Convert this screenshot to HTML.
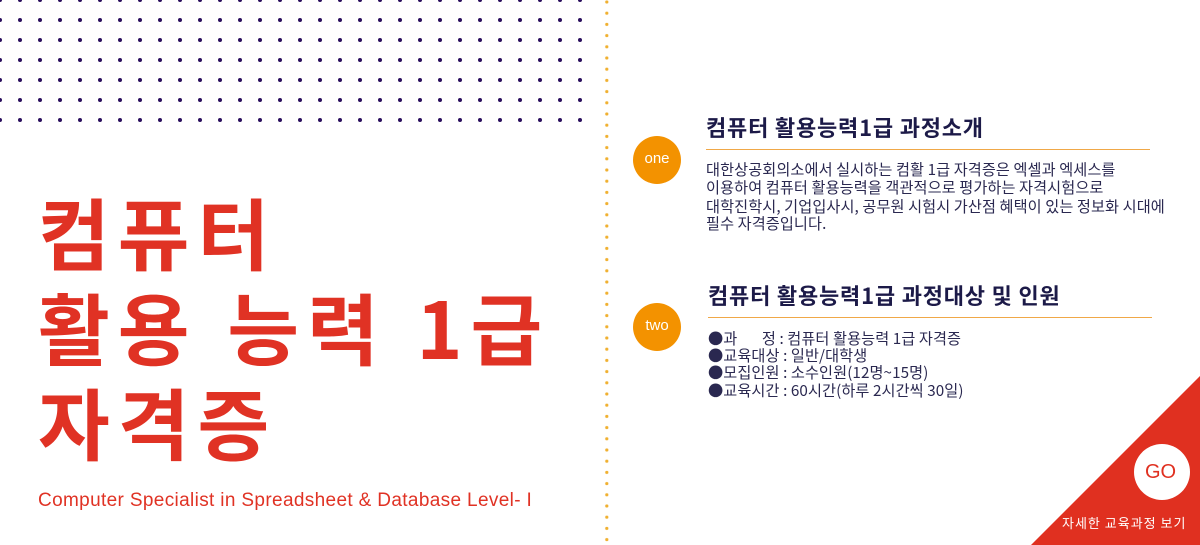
<!DOCTYPE html>
<html><head><meta charset="utf-8"><style>
*{margin:0;padding:0;box-sizing:border-box}
body{width:1200px;height:545px;overflow:hidden;background:#fff;position:relative;font-family:"Liberation Sans","Noto Sans CJK KR",sans-serif}
.t{position:absolute;left:38px;font-family:"Noto Sans CJK KR",sans-serif;font-weight:700;color:#e03224;font-size:78px;line-height:1;white-space:nowrap;letter-spacing:8px;word-spacing:4px}
.a{position:absolute;white-space:nowrap}
.h{font-family:"Noto Sans CJK KR",sans-serif;font-weight:700;font-size:22px;color:#1c1a48;line-height:1;letter-spacing:0.8px}
.b{font-family:"Noto Sans CJK KR",sans-serif;font-size:15.2px;color:#2a2850;line-height:1;letter-spacing:0.1px}
.ln{position:absolute;height:1px;background:#f0a848;left:706px;width:444px}
.c{position:absolute;width:48px;height:48px;border-radius:50%;background:#f39200;color:#fff;font-size:15px;text-align:center;line-height:46px;font-family:"Liberation Sans",sans-serif}
</style></head><body>
<svg width="1200" height="545" style="position:absolute;left:0;top:0">
<defs>
<pattern id="d" x="0" y="0" width="20" height="20" patternUnits="userSpaceOnUse"><circle cx="0" cy="0" r="2" fill="#2a0f5e"/><circle cx="20" cy="0" r="2" fill="#2a0f5e"/><circle cx="0" cy="20" r="2" fill="#2a0f5e"/><circle cx="20" cy="20" r="2" fill="#2a0f5e"/></pattern>
<pattern id="o" x="0" y="2" width="11.2" height="11.2" patternUnits="userSpaceOnUse"><circle cx="2" cy="0" r="1.6" fill="#f0b030"/><circle cx="2" cy="11.2" r="1.6" fill="#f0b030"/></pattern>
</defs>
<rect x="-2" y="-2" width="585" height="125" fill="url(#d)"/>
<rect x="604" y="0" width="5" height="545" fill="url(#o)"/>
<polygon points="1200,376 1200,545 1031,545" fill="#e03020"/>
<circle cx="1162" cy="472" r="28" fill="#fff"/>
</svg>
<div class="t" style="top:192px">컴퓨터</div>
<div class="t" style="top:287px">활용 능력 1급</div>
<div class="t" style="top:382px">자격증</div>
<div class="a" style="left:38px;top:490px;font-size:19px;color:#e03224;font-family:'Liberation Sans',sans-serif;letter-spacing:0.35px">Computer Specialist in Spreadsheet &amp; Database Level- I</div>

<div class="c" style="left:633px;top:136px">one</div>
<div class="a h" style="left:706px;top:116px">컴퓨터 활용능력1급 과정소개</div>
<div class="ln" style="top:149px"></div>
<div class="a b" style="left:706px;top:162px">대한상공회의소에서 실시하는 컴활 1급 자격증은 엑셀과 엑세스를</div>
<div class="a b" style="left:706px;top:180px">이용하여 컴퓨터 활용능력을 객관적으로 평가하는 자격시험으로</div>
<div class="a b" style="left:706px;top:199px">대학진학시, 기업입사시, 공무원 시험시 가산점 혜택이 있는 정보화 시대에</div>
<div class="a b" style="left:706px;top:216px">필수 자격증입니다.</div>

<div class="c" style="left:633px;top:303px">two</div>
<div class="a h" style="left:708px;top:284px">컴퓨터 활용능력1급 과정대상 및 인원</div>
<div class="ln" style="top:317px;left:708px"></div>
<div class="a b" style="left:708px;top:331px">●과&nbsp;&nbsp;&nbsp;&nbsp;&nbsp;&nbsp;&nbsp;정 : 컴퓨터 활용능력 1급 자격증</div>
<div class="a b" style="left:708px;top:348px">●교육대상 : 일반/대학생</div>
<div class="a b" style="left:708px;top:365px">●모집인원 : 소수인원(12명~15명)</div>
<div class="a b" style="left:708px;top:383px">●교육시간 : 60시간(하루 2시간씩 30일)</div>

<div class="a" style="left:1145px;top:461px;font-size:20px;color:#e03020;font-family:'Liberation Sans',sans-serif">GO</div>
<div class="a" style="left:1062px;top:513px;font-size:13px;color:#fff;font-family:'Noto Sans CJK KR',sans-serif;letter-spacing:1px">자세한 교육과정 보기</div>
</body></html>
